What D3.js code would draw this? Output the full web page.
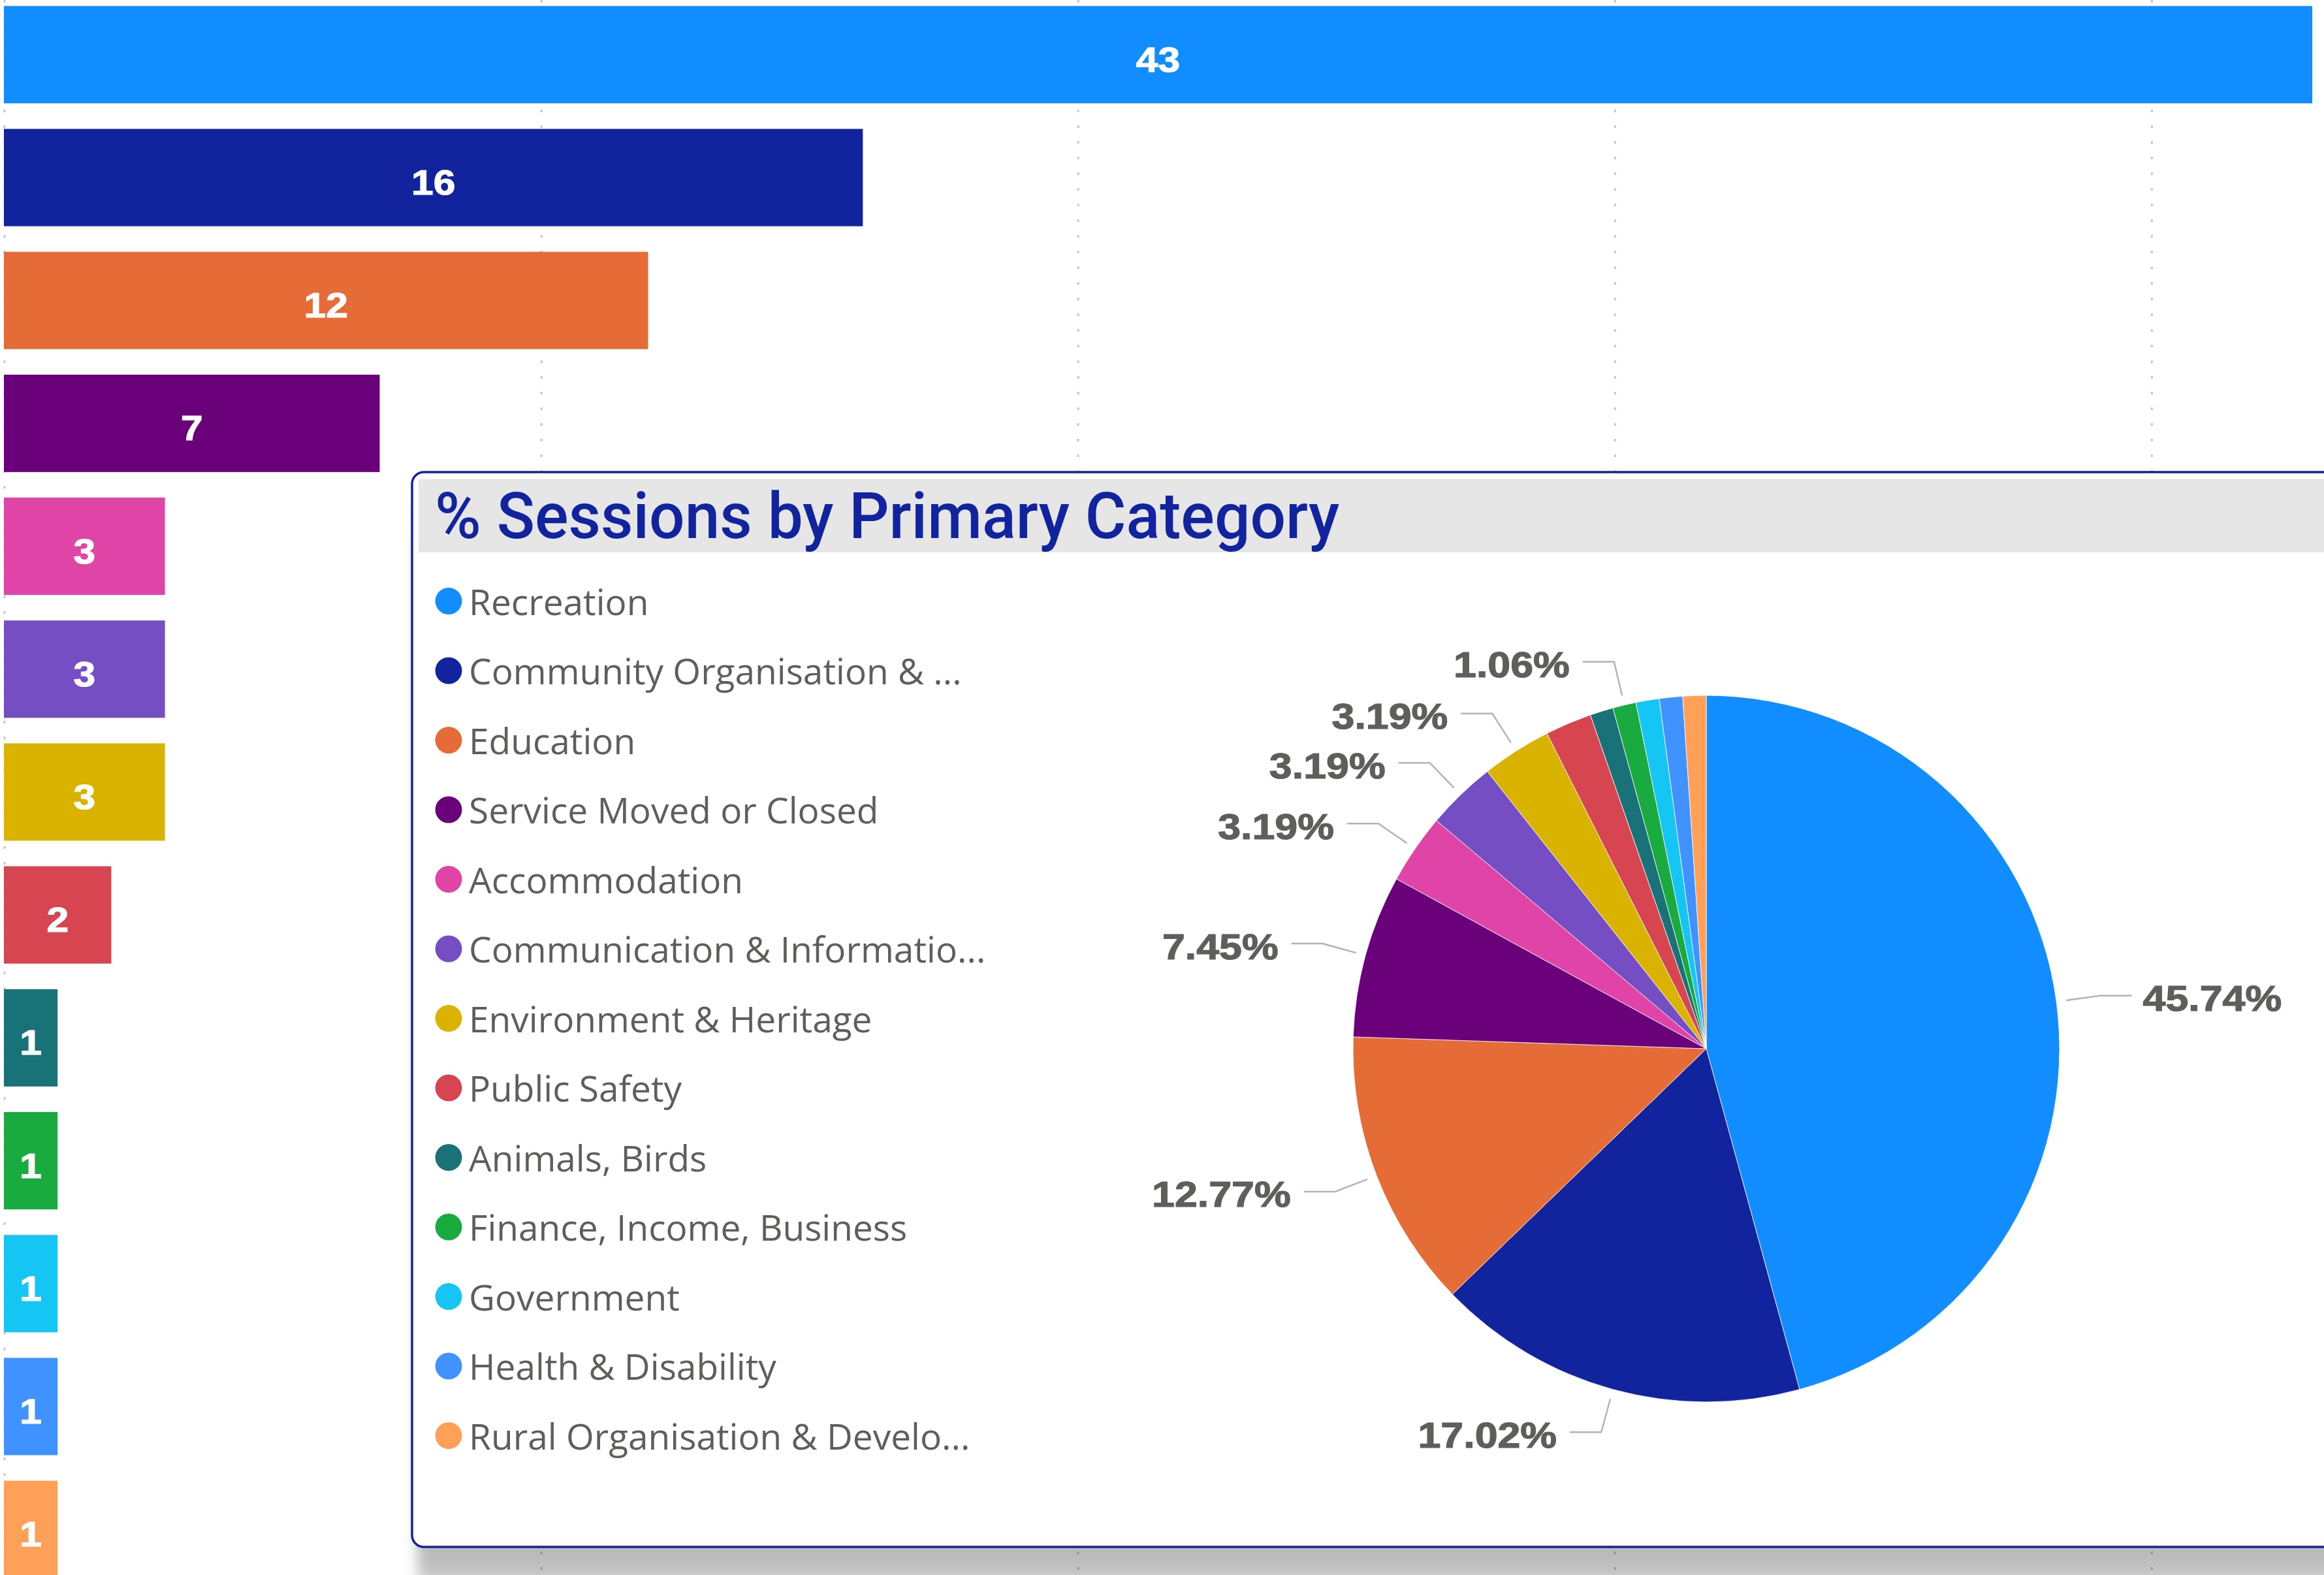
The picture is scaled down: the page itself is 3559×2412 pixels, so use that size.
<!DOCTYPE html>
<html>
<head>
<meta charset="utf-8">
<script src="https://cdn.jsdelivr.net/npm/d3@7"></script>
<style>
  html, body { margin: 0; padding: 0; background: #ffffff; overflow: hidden; }
  svg { display: block; }
</style>
</head>
<body>
<svg id="chart" width="3559" height="2412"></svg>
<script>
// ---------------- DATA ----------------
const categories = [
  "Recreation",
  "Community Organisation & ...",
  "Education",
  "Service Moved or Closed",
  "Accommodation",
  "Communication & Informatio...",
  "Environment & Heritage",
  "Public Safety",
  "Animals, Birds",
  "Finance, Income, Business",
  "Government",
  "Health & Disability",
  "Rural Organisation & Develo..."
];
const sessions = [43, 16, 12, 7, 3, 3, 3, 2, 1, 1, 1, 1, 1];
const colors = [
  "#118DFF", "#12239E", "#E66C37", "#6B007B", "#E044A7", "#744EC2",
  "#D9B300", "#D64550", "#197278", "#1AAB40", "#15C6F4", "#4092FF", "#FFA058"
];
const gridTicks = [0, 10, 20, 30, 40];
const pieTitle = "% Sessions by Primary Category";
// slices whose percentage label is visible in the reference
const labelledCategories = [
  "Recreation", "Community Organisation & ...", "Education", "Service Moved or Closed",
  "Accommodation", "Communication & Informatio...", "Environment & Heritage",
  "Finance, Income, Business"
];

// ---------------- LAYOUT ----------------
const W = 3559, H = 2412;
const svg = d3.select("#chart");

const defs = svg.append("defs");
const f = defs.append("filter").attr("id", "shadowBlur")
  .attr("x", "-10%").attr("y", "-10%").attr("width", "130%").attr("height", "130%");
f.append("feGaussianBlur").attr("stdDeviation", "10 25");

// ---------------- BAR CHART ----------------
const x = d3.scaleLinear().domain([0, d3.max(sessions)]).range([6, 3541]);
const y = d3.scaleBand().domain(categories).range([9.2, 2416.7]).paddingInner(0.208).paddingOuter(0);

const barG = svg.append("g");
barG.selectAll("line.grid").data(gridTicks).join("line")
  .attr("class", "grid")
  .attr("x1", d => x(d) + 1).attr("x2", d => x(d) + 1)
  .attr("y1", 0).attr("y2", H)
  .attr("stroke", "#C8C6C4").attr("stroke-width", 3)
  .attr("stroke-dasharray", "4,20");

barG.selectAll("rect.bar").data(categories).join("rect")
  .attr("class", "bar")
  .attr("x", x(0))
  .attr("y", d => y(d))
  .attr("width", (d, i) => x(sessions[i]) - x(0))
  .attr("height", y.bandwidth())
  .attr("fill", (d, i) => colors[i]);

barG.selectAll("g.blabel").data(categories).join("g")
  .attr("class", "blabel")
  .attr("transform", (d, i) => `translate(${(x(0) + x(sessions[i])) / 2},${y(d) + y.bandwidth() / 2 + 26})`)
  .append("text")
  .attr("transform", "scale(1.12,1)")
  .attr("text-anchor", "middle")
  .attr("font-family", "'Liberation Sans', Arial, sans-serif")
  .attr("font-weight", "bold")
  .attr("font-size", 54)
  .attr("fill", "#ffffff")
  .attr("stroke", "#ffffff").attr("stroke-width", 1.2)
  .text((d, i) => sessions[i]);

// ---------------- PIE CARD ----------------
const cardX = 631, cardY = 723, cardW = W - cardX + 60, cardH = 2369 - 723;
// drop shadow
svg.append("rect")
  .attr("x", cardX + 8).attr("y", cardY + 60)
  .attr("width", cardW).attr("height", cardH)
  .attr("rx", 18)
  .attr("fill", "#000").attr("fill-opacity", 0.27)
  .attr("filter", "url(#shadowBlur)");
svg.append("rect")
  .attr("x", cardX).attr("y", cardY).attr("width", cardW).attr("height", cardH)
  .attr("rx", 18).attr("ry", 18)
  .attr("fill", "#ffffff")
  .attr("stroke", "#12239E").attr("stroke-width", 3.5);

// title bar
svg.append("rect")
  .attr("x", cardX + 10).attr("y", cardY + 10.5)
  .attr("width", W - cardX).attr("height", 112.5)
  .attr("fill", "#E6E6E6");
svg.append("text")
  .attr("x", 666).attr("y", 824)
  .attr("font-family", "Roboto, 'DejaVu Sans', sans-serif")
  .attr("font-weight", 500)
  .attr("font-size", 98)
  .attr("fill", "#12239E")
  .attr("textLength", 1385)
  .attr("lengthAdjust", "spacingAndGlyphs")
  .text(pieTitle);

// legend
const legG = svg.append("g");
const legRow = legG.selectAll("g").data(categories).join("g")
  .attr("transform", (d, i) => `translate(0,${920.5 + i * 106.5})`);
legRow.append("circle")
  .attr("cx", 687).attr("cy", 0).attr("r", 20.5)
  .attr("fill", (d, i) => colors[i]);
legRow.append("text")
  .attr("x", 718).attr("y", 21)
  .attr("font-family", "'Open Sans', 'Noto Sans', sans-serif")
  .attr("font-size", 55)
  .attr("fill", "#605E5C")
  .text(d => d);

// pie
const cx = 2613, cy = 1606, R = 541;
const total = d3.sum(sessions);
const pieData = d3.pie().sort(null).value(d => d.v)
  (categories.map((c, i) => ({ c, v: sessions[i], col: colors[i] })));
const arc = d3.arc().innerRadius(0).outerRadius(R);
const pieG = svg.append("g").attr("transform", `translate(${cx},${cy})`);
pieG.selectAll("path").data(pieData).join("path")
  .attr("d", arc)
  .attr("fill", d => d.data.col)
  .attr("stroke", "#ffffff").attr("stroke-width", 0.8);

const fmt = d3.format(".2%");
const lab = pieData.filter(d => labelledCategories.includes(d.data.c));
const pt = (a, r) => [Math.sin(a) * r, -Math.cos(a) * r];
lab.forEach(d => {
  const a = (d.startAngle + d.endAngle) / 2;
  const p0 = pt(a, R + 15), p1 = pt(a, R + 68);
  const right = Math.sin(a) > 0;
  const p2 = [p1[0] + (right ? 48 : -48), p1[1]];
  pieG.append("polyline")
    .attr("points", [p0, p1, p2].map(p => p.join(",")).join(" "))
    .attr("fill", "none").attr("stroke", "#B3B3B3").attr("stroke-width", 2.5);
  pieG.append("g")
    .attr("transform", `translate(${p2[0] + (right ? 17 : -20)},${p2[1] + 23.5})`)
    .append("text")
    .attr("transform", "scale(1.14,1)")
    .attr("text-anchor", right ? "start" : "end")
    .attr("font-family", "'Liberation Sans', Arial, sans-serif")
    .attr("font-weight", "bold")
    .attr("font-size", 55)
    .attr("fill", "#605E5C")
    .attr("stroke", "#605E5C").attr("stroke-width", 1.2)
    .text(fmt(d.data.v / total));
});
</script>
</body>
</html>
